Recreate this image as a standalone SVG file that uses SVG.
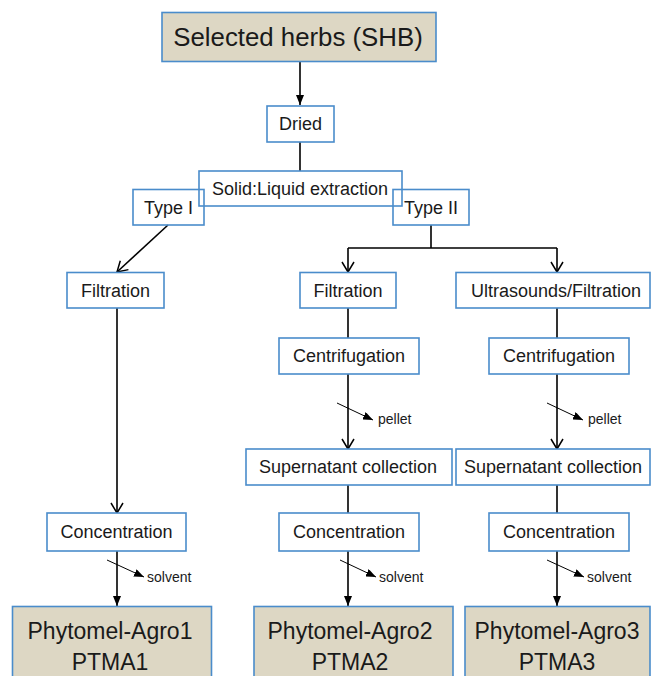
<svg xmlns="http://www.w3.org/2000/svg" width="651" height="676" viewBox="0 0 651 676">
<style>
.box{fill:#ffffff;stroke:#4a8ccb;stroke-width:1.6}
.ovl{fill:none;stroke:#4a8ccb;stroke-width:1.6}
.prod{fill:#ddd7c4;stroke:#4a8ccb;stroke-width:1.6}
.lbl{font-family:"Liberation Sans",Arial,sans-serif;font-size:18px;fill:#1a1a1a;text-anchor:middle}
.big{font-family:"Liberation Sans",Arial,sans-serif;font-size:23px;fill:#1a1a1a;text-anchor:middle}
.top{font-family:"Liberation Sans",Arial,sans-serif;font-size:25.8px;fill:#1a1a1a;text-anchor:middle}
.sm{font-family:"Liberation Sans",Arial,sans-serif;font-size:14px;fill:#1a1a1a}
.ln{fill:none;stroke:#000;stroke-width:1.6}
.thin{fill:none;stroke:#000;stroke-width:1}
</style>
<defs>
<marker id="open" markerUnits="userSpaceOnUse" viewBox="0 0 10 12" refX="10" refY="6" markerWidth="10" markerHeight="12" orient="auto" overflow="visible">
<path d="M0,0 L10,6 L0,12" fill="none" stroke="#000" stroke-width="1.5"/>
</marker>
<marker id="fill" markerUnits="userSpaceOnUse" viewBox="0 0 10 8" refX="10" refY="4" markerWidth="10" markerHeight="8" orient="auto">
<path d="M0,0 L10,4 L0,8 z" fill="#000"/>
</marker>
<marker id="sfill" markerUnits="userSpaceOnUse" viewBox="0 0 10 8" refX="10" refY="4" markerWidth="10" markerHeight="8" orient="auto">
<path d="M0,0 L10,4 L0,8 z" fill="#000"/>
</marker>
</defs>
<rect width="651" height="676" fill="#ffffff"/>

<g id="connectors">
<path class="ln" d="M300,61 V105" marker-end="url(#fill)"/>
<path class="ln" d="M300,142 V171"/>
<path class="ln" d="M168,225 L117,272" marker-end="url(#open)"/>
<path class="ln" d="M431,225 V248 M348,248 H557"/>
<path class="ln" d="M348,248 V272" marker-end="url(#open)"/>
<path class="ln" d="M557,248 V272" marker-end="url(#open)"/>
<path class="ln" d="M117,308 V513" marker-end="url(#open)"/>
<path class="ln" d="M348,308 V338 M557,308 V338"/>
<path class="ln" d="M348,374 V449" marker-end="url(#open)"/>
<path class="ln" d="M557,374 V449" marker-end="url(#open)"/>
<path class="ln" d="M348,485 V513 M557,485 V513"/>
<path class="ln" d="M117,551 V606" marker-end="url(#fill)"/>
<path class="ln" d="M348,551 V606" marker-end="url(#fill)"/>
<path class="ln" d="M557,551 V606" marker-end="url(#fill)"/>
<path class="thin" d="M337,403 L373,420" marker-end="url(#sfill)"/>
<path class="thin" d="M547,403 L583,420" marker-end="url(#sfill)"/>
<path class="thin" d="M107,560 L144,577" marker-end="url(#sfill)"/>
<path class="thin" d="M340,560 L376,577" marker-end="url(#sfill)"/>
<path class="thin" d="M547,560 L584,577" marker-end="url(#sfill)"/>
<text class="sm" x="378" y="424">pellet</text>
<text class="sm" x="588" y="424">pellet</text>
<text class="sm" x="147" y="582">solvent</text>
<text class="sm" x="379" y="582">solvent</text>
<text class="sm" x="587" y="582">solvent</text>
</g>

<g id="shb"><rect class="prod" x="162" y="12.5" width="274" height="49"/><text class="top" x="298" y="46">Selected herbs (SHB)</text></g>
<g id="dried"><rect class="box" x="267" y="106" width="67" height="36"/><text class="lbl" x="300.5" y="130">Dried</text></g>
<g id="solid"><rect class="box" x="199" y="171" width="203" height="35"/><text class="lbl" x="300" y="195">Solid:Liquid extraction</text></g>
<g id="type1"><rect class="ovl" x="133" y="189.5" width="71" height="35.5"/><text class="lbl" x="168.5" y="214">Type I</text></g>
<g id="type2"><rect class="ovl" x="393" y="189.5" width="76" height="35.5"/><text class="lbl" x="431" y="214">Type II</text></g>

<g id="filt1"><rect class="box" x="67" y="272.5" width="97" height="35.5"/><text class="lbl" x="115.5" y="296.5">Filtration</text></g>
<g id="filt2"><rect class="box" x="300" y="272.5" width="96" height="35.5"/><text class="lbl" x="348" y="296.5">Filtration</text></g>
<g id="ultra"><rect class="box" x="456" y="272.5" width="194" height="35.5"/><text class="lbl" x="556" y="296.5">Ultrasounds/Filtration</text></g>

<g id="cent2"><rect class="box" x="279" y="338" width="140" height="36"/><text class="lbl" x="349" y="362">Centrifugation</text></g>
<g id="cent3"><rect class="box" x="489" y="338" width="140" height="36"/><text class="lbl" x="559" y="362">Centrifugation</text></g>

<g id="sup2"><rect class="box" x="246" y="449" width="206" height="36"/><text class="lbl" x="348" y="473">Supernatant collection</text></g>
<g id="sup3"><rect class="box" x="456" y="449" width="194" height="36"/><text class="lbl" x="553" y="473">Supernatant collection</text></g>

<g id="conc1"><rect class="box" x="47" y="513" width="139" height="38"/><text class="lbl" x="116.5" y="538">Concentration</text></g>
<g id="conc2"><rect class="box" x="279" y="513" width="140" height="38"/><text class="lbl" x="349" y="538">Concentration</text></g>
<g id="conc3"><rect class="box" x="489" y="513" width="140" height="38"/><text class="lbl" x="559" y="538">Concentration</text></g>

<g id="prod1"><rect class="prod" x="12.5" y="606.5" width="199" height="75"/><text class="big" x="110" y="639">Phytomel-Agro1</text><text class="big" x="110" y="670">PTMA1</text></g>
<g id="prod2"><rect class="prod" x="254" y="606.5" width="199" height="75"/><text class="big" x="350" y="639">Phytomel-Agro2</text><text class="big" x="350" y="670">PTMA2</text></g>
<g id="prod3"><rect class="prod" x="465" y="606.5" width="185" height="75"/><text class="big" x="557" y="639">Phytomel-Agro3</text><text class="big" x="557" y="670">PTMA3</text></g>
</svg>
